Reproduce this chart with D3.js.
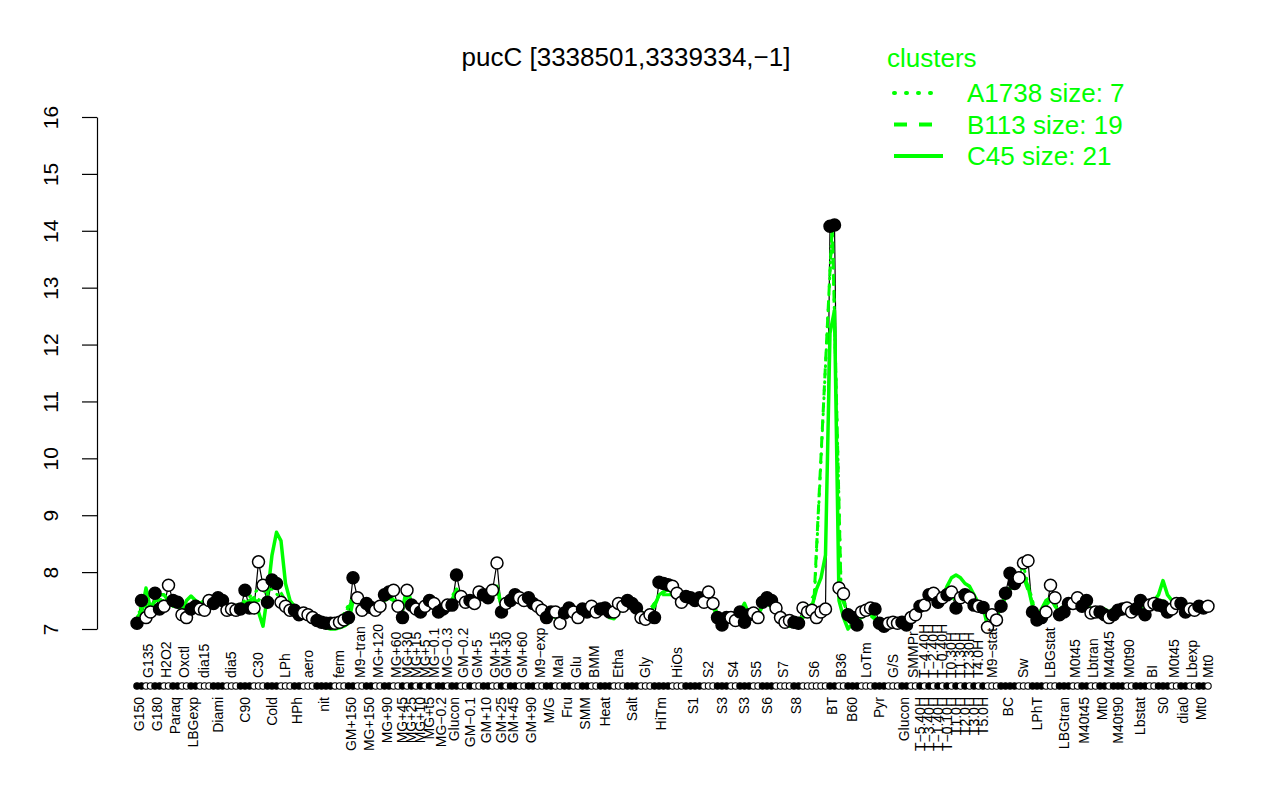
<!DOCTYPE html>
<html><head><meta charset="utf-8">
<script src="https://cdn.jsdelivr.net/npm/d3@7"></script>
<style>body{margin:0;background:#fff} svg{display:block} text{font-family:"Liberation Sans",Arial,Helvetica,sans-serif}</style>
</head><body><svg id="chart" width="1280" height="800"></svg>
<script>
const title = "pucC [3338501,3339334,\u22121]";
const yTicks = [7, 8, 9, 10, 11, 12, 13, 14, 15, 16];
const legendTitle = "clusters";
const legendItems = ["A1738 size: 7", "B113 size: 19", "C45 size: 21"];

const conditions = [
 "G150","G135","G180","H2O2","Paraq","Oxctl","LBGexp","dia15","Diami","dia5","C90","C30","Cold","LPh","HPh","aero","nit","ferm","GM+150","M9\u2212tran","MG+150","MG+120",
 "MG+90","MG+60","MG+45","MG+30","MG+25","MG+15","MG+10","MG+5","MG+t5","MG\u22120.1","MG\u22120.2","MG\u22120.3",
 "Glucon","GM\u22120.2","GM\u22120.1","GM+5","GM+10","GM+15","GM+25","GM+30","GM+45","GM+60","GM+90",
 "M9\u2212exp","M/G","Mal","Fru","Glu","SMM","BMM","Heat","Etha","Salt","Gly","HiTm","HiOs","S1","S2","S3","S4","S3","S5","S6","S7","S8","S6","BT","B36","B60","LoTm","Pyr","G/S","Glucon","SMMPr",
 "T\u22125.40H","T\u22124.40H","T\u22123.40H","T\u22122.40H","T\u22121.40H","T\u22120.40H","T\u22120.10H",
 "T0.30H","T1.0H","T1.30H","T2.0H","T2.30H","T3.0H","T4.0H","T5.0H",
 "M9\u2212stat","BC","Sw","LPhT","LBGstat","LBGtran","M0t45","M40t45","Lbtran","Mt0","M40t45","M40t90","M0t90","Lbstat","BI","S0","M0t45","dia0","Lbexp","Mt0","Mt0"
];
const reps = [
 2,2,2,2,2,2,2,3,3,3,3,3,3,3,2,3,4,3,2,2,2,2,
 2,2,1,1,1,1,1,1,1,1,2,1,
 2,2,1,2,2,2,1,1,2,2,2,
 2,2,2,2,2,2,2,3,3,3,3,4,3,4,3,3,2,3,2,3,4,2,6,2,2,3,3,3,3,2,2,
 1,1,1,1,1,1,1,
 1,1,1,1,1,1,1,1,
 3,4,3,3,3,3,2,2,2,2,1,3,2,3,2,3,2,2,2,2,1
];
const values = [
 7.10,7.50, 7.20,7.30, 7.63,7.35, 7.40,7.77, 7.50,7.47, 7.25,7.20, 7.35,7.40,
 7.35,7.33,7.50, 7.45,7.55,7.50, 7.33,7.35,7.33, 7.35,7.68,7.37, 7.37,8.18,7.77, 7.47,7.86,7.80, 7.47,7.40,7.33,
 7.33,7.25, 7.28,7.25,7.20, 7.15,7.12,7.10,7.10, 7.10,7.12,7.16,
 7.20,7.90, 7.55,7.33, 7.45,7.38, 7.33,7.40,
 7.60,7.65, 7.68,7.40, 7.20, 7.68, 7.42, 7.35, 7.30, 7.40, 7.50, 7.45, 7.30,7.35, 7.42,
 7.42,7.95, 7.57,7.47, 7.50, 7.45,7.65, 7.60,7.55, 7.68,8.16, 7.30, 7.45, 7.50,7.60, 7.55,7.50, 7.55,7.45,
 7.40,7.33, 7.20,7.30, 7.30,7.10, 7.28,7.37, 7.30,7.20, 7.35,7.30, 7.40,7.30,
 7.35,7.37,7.30, 7.30,7.45,7.40, 7.50,7.45,7.37, 7.20,7.17,7.25,
 7.20,7.82,7.80,7.78, 7.75,7.63,7.47, 7.57,7.55,7.50,7.55, 7.47,7.65,7.45,
 7.20,7.07,7.20, 7.20,7.15, 7.30,7.12,7.25, 7.28,7.20, 7.47,7.55,7.50, 7.37,7.20,7.12,7.15, 7.12,7.10,
 7.37,7.30,7.33,7.20,7.30,7.35, 14.08,14.10, 7.72,7.62,
 7.25,7.20,7.07, 7.30,7.33,7.37, 7.35,7.10,7.05, 7.10,7.12,7.10, 7.12,7.07, 7.20,7.25,
 7.40,7.42,7.60,7.63,7.47,7.55,7.60, 7.65,7.37,7.55,7.60,7.55,7.42,7.40,7.38,
 7.03,7.25,7.16, 7.40,7.63,7.98,7.80, 7.90,8.16,8.20, 7.30,7.16,7.20, 7.30,7.77,7.55, 7.25,7.30,7.45,
 7.45,7.55, 7.40,7.50, 7.28,7.30, 7.30,7.25, 7.20, 7.25,7.33,7.35, 7.37,7.30, 7.35,7.50,7.25, 7.42,7.45, 7.42,7.40,7.30, 7.35,7.45, 7.45,7.30, 7.35,7.33, 7.40,7.37, 7.40
];
// cluster C45 (solid) profile, one value per sample
const clusterC = [
 7.20,7.30, 7.72,7.35, 7.50,7.60, 7.60,7.50, 7.40,7.45, 7.30,7.50, 7.58,7.50,
 7.45,7.50,7.40, 7.45,7.50,7.45, 7.40,7.40,7.35, 7.40,7.45,7.50, 7.55,7.30,7.05, 7.60,8.30,8.70, 8.55,7.80,7.50,
 7.40,7.35, 7.30,7.25,7.20, 7.15,7.05,7.02,7.00, 7.00,7.02,7.05,
 7.10,7.50, 7.60,7.50, 7.45,7.40, 7.40,7.45,
 7.50,7.55,7.50,7.45,7.35,7.75,7.45,7.35,7.30,7.35,7.45,7.50,7.35,7.40,7.42,
 7.40,7.70,7.55,7.45,7.50,7.45,7.55,7.55,7.50,7.60,7.75,7.40,7.45,7.50,7.55,7.50,7.45,7.50,7.45,
 7.40,7.35, 7.30,7.25, 7.20,7.15, 7.25,7.30, 7.25,7.20, 7.30,7.30, 7.35,7.30,
 7.30,7.30,7.20, 7.18,7.30,7.35, 7.40,7.45,7.35, 7.30,7.25,7.30,
 7.40,7.60,7.65,7.70, 7.65,7.55,7.50, 7.50,7.55,7.50,7.45, 7.45,7.50,7.40,
 7.20,7.15,7.20, 7.25,7.20, 7.30,7.45,7.25, 7.20,7.25, 7.40,7.50,7.45, 7.30,7.20,7.10,7.05, 7.05,7.10,
 7.20,7.30,7.40,7.70,7.90,8.30, 12.20,12.60, 7.50,7.20,
 7.00,7.10,7.15, 7.20,7.25,7.30, 7.20,7.05,7.00, 7.05,7.10,7.05, 7.05,7.10, 7.20,7.30,
 7.40,7.50,7.60,7.70,7.60,7.55,7.75, 7.90,7.95,7.90,7.80,7.75,7.60,7.45,7.40,
 7.05,7.10,7.20, 7.40,7.60,7.70,7.80, 7.90,7.95,7.75, 7.40,7.20,7.35, 7.50,7.55,7.40, 7.30,7.35,7.40,
 7.45,7.50, 7.40,7.45, 7.35,7.30, 7.30,7.35, 7.30, 7.35,7.35,7.40, 7.40,7.35, 7.40,7.45,7.40, 7.45,7.50, 7.60,7.85,7.60, 7.50,7.45, 7.40,7.45, 7.40,7.35, 7.40,7.40, 7.40
];
// clusters A1738 (dotted) and B113 (dashed), one value per condition
const clusterA = [
 7.30,7.40,7.50,7.55,7.45,7.30,7.40,7.45,7.50,7.35,7.50,7.70,7.70,7.45,7.30,7.25,7.12,7.12,7.50,7.45,7.40,7.40,
 7.60,7.50,7.30,7.55,7.40,7.35,7.35,7.40,7.45,7.40,7.35,7.40,
 7.65,7.50,7.50,7.55,7.60,7.80,7.40,7.50,7.55,7.50,7.50,
 7.35,7.25,7.20,7.30,7.25,7.30,7.35,7.33,7.35,7.45,7.20,7.65,7.60,7.55,7.50,7.15,7.20,7.22,7.25,7.50,7.20,7.10,7.50,14.10,7.60,7.15,7.30,7.15,7.10,7.10,7.22,
 7.40,7.45,7.55,7.60,7.50,7.55,7.60,
 7.60,7.45,7.55,7.60,7.55,7.45,7.40,7.40,
 7.12,7.70,8.10,7.20,7.55,7.33,7.50,7.45,7.30,7.28,7.25,7.30,7.33,7.37,7.43,7.40,7.40,7.38,7.34,7.38,7.40
];
const clusterB = [
 7.35,7.45,7.50,7.50,7.40,7.35,7.45,7.40,7.45,7.40,7.45,7.50,7.90,7.50,7.35,7.25,7.10,7.10,7.45,7.50,7.40,7.45,
 7.55,7.50,7.40,7.60,7.45,7.40,7.30,7.40,7.50,7.45,7.40,7.40,
 7.60,7.55,7.50,7.60,7.55,7.70,7.45,7.50,7.55,7.50,7.45,
 7.40,7.30,7.25,7.30,7.25,7.30,7.30,7.30,7.30,7.40,7.25,7.60,7.60,7.50,7.50,7.20,7.25,7.30,7.20,7.45,7.20,7.12,7.60,14.10,7.55,7.10,7.30,7.10,7.10,7.10,7.25,
 7.45,7.50,7.60,7.65,7.55,7.60,7.65,
 7.70,7.50,7.60,7.60,7.55,7.50,7.45,7.40,
 7.15,7.60,7.90,7.25,7.50,7.35,7.45,7.45,7.30,7.30,7.30,7.35,7.35,7.40,7.45,7.50,7.45,7.40,7.35,7.40,7.40
];

const svg = d3.select("#chart");
const GREEN = "#00ff00";
const N = values.length;
const x = d3.scaleLinear().domain([0, N - 1]).range([137, 1208]);
const y = d3.scaleLinear().domain([7, 16]).range([629, 117]);

// sample -> condition, condition centres
const sampleCond = [];
const condCenter = [];
let k = 0;
reps.forEach((r, ci) => {
  const start = k;
  for (let j = 0; j < r; j++) { sampleCond.push(ci); k++; }
  condCenter.push((start + k - 1) / 2);
});
const samples = values.map((v, i) => ({ i, v, c: clusterC[i], cond: sampleCond[i] }));
const fillOf = ci => (ci % 2 === 0 ? "#000" : "#fff");

// title
svg.append("text").attr("x", 626).attr("y", 66).attr("text-anchor", "middle")
  .attr("font-size", 26).attr("fill", "#000").text(title);

// y axis
const yAxisG = svg.append("g").attr("transform", "translate(97,0)")
  .call(d3.axisLeft(y).tickValues(yTicks).tickSize(15).tickSizeOuter(0).tickFormat(d3.format("d")));
yAxisG.select(".domain").attr("stroke", "#000").attr("stroke-width", 1.2);
yAxisG.selectAll(".tick line").attr("stroke", "#000").attr("stroke-width", 1.2);
yAxisG.selectAll(".tick text")
  .attr("x", null).attr("dy", null)
  .attr("text-anchor", "middle")
  .attr("transform", "translate(-39,0) rotate(-90)")
  .attr("font-size", 21).attr("fill", "#000")
  .style("font-family", "'Liberation Sans', Arial, sans-serif");

// profile line (black)
const line = d3.line().x(d => x(d.i)).y(d => y(d.v));
svg.append("path").datum(samples).attr("d", line)
  .attr("fill", "none").attr("stroke", "#000").attr("stroke-width", 1.2);

// cluster lines
svg.append("path").datum(samples)
  .attr("d", d3.line().x(d => x(d.i)).y(d => y(d.c)))
  .attr("fill", "none").attr("stroke", GREEN).attr("stroke-width", 3.5).attr("stroke-linejoin", "round");
const condPts = condCenter.map((c, ci) => ({ c, a: clusterA[ci], b: clusterB[ci] }));
svg.append("path").datum(condPts)
  .attr("d", d3.line().x(d => x(d.c)).y(d => y(d.b)))
  .attr("fill", "none").attr("stroke", GREEN).attr("stroke-width", 3).attr("stroke-dasharray", "10,7");
svg.append("path").datum(condPts)
  .attr("d", d3.line().x(d => x(d.c)).y(d => y(d.a)))
  .attr("fill", "none").attr("stroke", GREEN).attr("stroke-width", 3)
  .attr("stroke-dasharray", "1,7").attr("stroke-linecap", "round");

// points
svg.append("g").selectAll("circle").data(samples).join("circle")
  .attr("cx", d => x(d.i)).attr("cy", d => y(d.v)).attr("r", 6)
  .attr("fill", d => fillOf(d.cond)).attr("stroke", "#000").attr("stroke-width", 1.5);

// rug of samples
svg.append("g").selectAll("circle").data(samples).join("circle")
  .attr("cx", d => x(d.i)).attr("cy", 686).attr("r", 3.2)
  .attr("fill", d => fillOf(d.cond)).attr("stroke", "#000").attr("stroke-width", 1.1);

// condition labels, alternating below / above the rug
svg.append("g").selectAll("text").data(conditions).join("text")
  .attr("transform", (d, ci) => `translate(${x(condCenter[ci])},${ci % 2 === 0 ? 697 : 678}) rotate(-90)`)
  .attr("text-anchor", (d, ci) => (ci % 2 === 0 ? "end" : "start"))
  .attr("dy", "0.35em")
  .attr("font-size", 14).attr("fill", "#000")
  .text(d => d);

// legend
svg.append("text").attr("x", 887).attr("y", 67).attr("font-size", 26).attr("fill", GREEN).text(legendTitle);
const dashes = [{ da: "1,11", cap: "round", x2: 937 }, { da: "13,12", cap: "butt", x2: 932 }, { da: null, cap: "butt", x2: 943 }];
legendItems.forEach((t, j) => {
  const yy = 93 + j * 31.5;
  svg.append("line").attr("x1", 894).attr("x2", dashes[j].x2).attr("y1", yy).attr("y2", yy)
    .attr("stroke", GREEN).attr("stroke-width", 4)
    .attr("stroke-dasharray", dashes[j].da).attr("stroke-linecap", dashes[j].cap);
  svg.append("text").attr("x", 967).attr("y", yy + 9).attr("font-size", 26).attr("fill", GREEN).text(t);
});
</script>
</body></html>
